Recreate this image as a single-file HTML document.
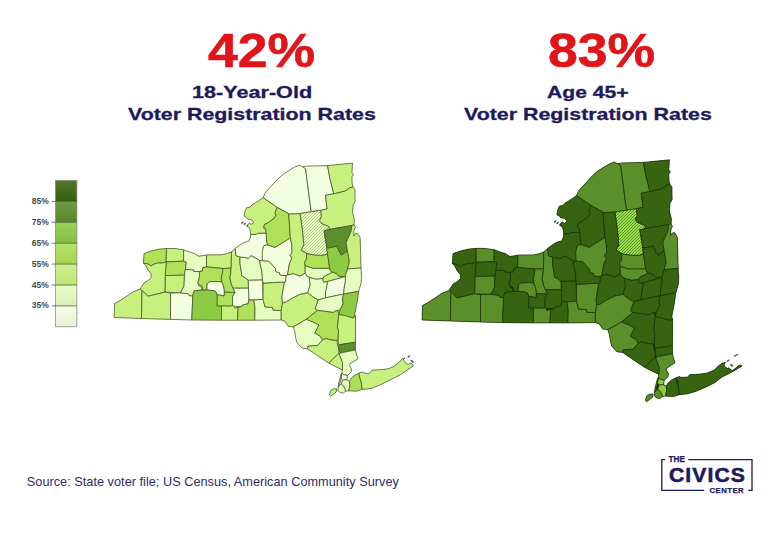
<!DOCTYPE html>
<html lang="en"><head><meta charset="utf-8"><title>Voter Registration Rates</title>
<style>
html,body{margin:0;padding:0;background:#fff;}
body{width:768px;height:548px;position:relative;overflow:hidden;font-family:"Liberation Sans",sans-serif;}
.t{position:absolute;white-space:nowrap;line-height:1;font-weight:bold;transform-origin:0 0;}
.red{color:#e0151a;}
.navy{color:#1e1a5c;}
#map{position:absolute;left:0;top:0;}
.lg{position:absolute;font-size:8.5px;font-weight:bold;color:#4a4a4a;line-height:1;white-space:nowrap;}
</style></head><body>
<svg id="map" width="768" height="548" viewBox="0 0 768 548">
<g id="mapL" stroke="#3b4c20" stroke-width="0.7" stroke-linejoin="round">
<path d="M141.5 318.5L141.5 318.5L170.1 319.4L170.5 319.4L191.8 320.0L221.1 320.2L221.5 320.2L254.8 320.2L281.2 320.0L285.0 321.2L288.1 326.2L293.1 326.9L294.7 331.5L295.6 337.5L296.9 342.5L301.9 348.1L307.5 348.8L310.0 350.6L328.8 363.1L342.2 369.9L341.9 373.1L341.0 373.8L340.0 378.1L338.8 382.5L338.1 387.2L338.1 390.6L340.0 392.5L343.1 393.1L345.6 391.2L348.8 390.8L356.2 391.2L362.2 389.4L366.9 389.0L372.5 388.1L381.2 384.4L400.0 375.0L409.0 368.9L413.3 366.0L411.4 363.2L409.8 363.5L408.4 364.3L406.6 364.1L405.7 362.2L403.9 360.7L403.3 359.1L405.2 358.1L401.9 358.9L401.2 360.0L399.2 362.2L393.6 366.6L388.4 368.7L381.6 369.6L375.2 370.1L372.1 370.1L368.8 373.8L363.5 372.7L362.0 371.9L359.1 373.0L355.0 375.0L351.2 378.1L349.4 381.2L346.9 379.7L347.5 375.6L351.2 371.9L351.5 368.8L349.4 365.6L350.0 363.8L358.0 358.8L356.6 355.0L355.5 350.0L355.4 342.2L355.6 330.0L355.5 315.3L354.1 317.4L353.9 317.3L354.7 314.6L357.5 300.0L358.7 291.3L359.5 288.6L361.2 282.7L361.6 276.8L361.2 271.8L361.0 268.0L360.6 252.5L360.1 237.4L357.6 233.4L355.4 233.6L353.8 236.1L353.9 230.8L355.4 227.3L354.1 224.8L354.4 220.0L352.5 212.5L353.1 205.3L355.2 201.2L355.0 197.5L355.0 189.4L353.1 186.9L352.2 183.8L351.9 176.9L353.5 175.0L351.9 172.5L352.2 168.8L352.5 163.1L327.5 165.6L305.6 166.2L303.1 166.9L301.2 166.2L299.4 165.2L294.4 167.2L283.8 173.8L278.1 178.8L271.2 186.2L265.0 193.1L263.1 197.6L258.8 200.6L251.9 205.0L250.0 207.3L246.5 207.8L245.0 211.2L244.1 216.1L246.6 217.5L247.8 219.1L250.3 219.3L252.1 220.2L253.5 221.8L253.0 223.4L251.2 224.3L249.4 223.4L248.0 224.1L247.1 225.7L248.0 227.1L249.6 228.7L250.3 231.2L250.7 234.4L250.4 237.5L248.8 241.2L243.8 242.5L240.0 245.0L235.3 248.4L231.5 251.9L227.5 253.5L221.2 254.8L212.5 254.8L206.5 255.0L203.1 255.6L198.8 256.2L195.0 253.8L189.4 251.9L183.6 249.8L174.9 248.5L166.5 248.5L159.2 249.1L151.1 251.0L144.0 253.5L143.4 263.1L145.5 265.0L148.0 270.0L151.1 273.8L151.1 277.5L148.6 280.2L144.2 282.8L141.5 286.9L140.2 289.0L133.0 291.9L126.8 296.2L119.9 300.6L114.5 303.5L114.2 317.5L141.1 318.5ZM330.6 390.6L329.4 395.0L330.6 396.2L333.1 394.4L336.2 391.9L336.9 388.8L333.8 388.8Z" fill="#cfe6a0" stroke="none"/>
<path d="M144.0 253.5L151.1 251.0L159.2 249.1L166.5 248.5L166.2 261.9L161.8 263.1L157.4 263.1L153.6 264.4L151.1 266.0L148.0 264.0L143.4 263.1Z" fill="#aee058"/>
<path d="M166.5 248.5L174.9 248.5L183.6 249.8L183.6 261.2L166.2 261.9Z" fill="#c8f07e"/>
<path d="M166.2 261.9L183.6 261.2L186.4 262.2L185.4 269.4L184.5 275.2L165.2 275.6Z" fill="#aee058"/>
<path d="M165.2 275.6L184.5 275.2L184.0 286.2L180.5 292.8L164.9 292.2Z" fill="#c8f07e"/>
<path d="M143.4 263.1L148.0 264.0L151.1 266.0L153.6 264.4L157.4 263.1L161.8 263.1L166.2 261.9L165.2 275.6L164.9 292.2L158.0 293.8L148.0 296.2L142.0 290.6L140.2 289.0L141.5 286.9L144.2 282.8L148.6 280.2L151.1 277.5L151.1 273.8L148.0 270.0L145.5 265.0Z" fill="#c8f07e"/>
<path d="M114.2 317.5L114.5 303.5L119.9 300.6L126.8 296.2L133.0 291.9L140.2 289.0L142.0 290.6L141.5 318.5Z" fill="#c8f07e"/>
<path d="M141.5 318.5L142.0 290.6L148.0 296.2L158.0 293.8L164.9 292.2L170.5 293.1L170.5 319.4Z" fill="#c8f07e"/>
<path d="M170.5 319.4L170.5 293.1L180.5 292.8L188.0 293.6L189.2 295.6L192.8 295.8L191.8 320.0Z" fill="#f3fde0"/>
<path d="M185.4 269.4L193.6 269.8L193.9 271.4L199.3 271.5L199.9 276.2L197.9 282.2L198.6 285.6L201.5 287.5L201.8 290.0L194.2 290.6L192.8 295.8L189.2 295.6L188.0 293.6L180.5 292.8L184.0 286.2L184.5 275.2Z" fill="#e6fcc0"/>
<path d="M183.6 249.8L189.4 251.9L195.0 253.8L198.8 256.2L203.1 255.6L206.5 255.0L206.5 266.9L202.8 267.8L202.2 271.2L199.3 271.5L193.9 271.4L193.6 269.8L185.4 269.4L186.4 262.2L183.6 261.2Z" fill="#e6fcc0"/>
<path d="M206.5 255.0L212.5 254.8L221.2 254.8L227.5 253.5L231.5 251.9L231.2 268.1L223.1 268.5L215.6 267.8L206.5 266.9Z" fill="#c8f07e"/>
<path d="M202.8 267.8L206.5 266.9L215.6 267.8L223.1 268.5L222.2 274.4L221.2 278.1L221.9 281.9L217.5 281.5L209.4 281.9L207.2 283.8L206.9 290.0L202.8 290.2L202.2 286.2L198.5 284.4L197.9 282.2L199.4 277.5L199.3 271.5L202.2 271.2Z" fill="#aee058"/>
<path d="M209.4 281.9L217.5 281.5L221.9 281.9L223.8 286.9L224.4 291.2L224.0 296.0L220.0 295.1L217.1 294.8L215.6 291.4L213.8 290.6L206.9 290.0L207.2 283.8Z" fill="#f3fde0"/>
<path d="M223.1 268.5L231.2 268.1L230.6 273.8L230.0 277.5L231.2 283.8L233.1 288.2L235.0 292.5L225.0 292.2L224.4 291.2L223.8 286.9L221.9 281.9L221.2 278.1L222.2 274.4Z" fill="#aee058"/>
<path d="M231.5 251.9L235.3 248.4L235.9 255.6L240.0 256.9L240.0 263.8L241.0 270.0L241.9 276.2L245.0 277.5L248.3 280.3L248.5 288.2L233.1 288.2L231.2 283.8L230.0 277.5L230.6 273.8L231.2 268.1Z" fill="#c8f07e"/>
<path d="M240.0 256.9L248.4 258.1L251.2 255.6L255.0 257.5L259.8 260.6L260.0 263.8L261.9 271.2L262.5 280.0L248.3 280.3L245.0 277.5L241.9 276.2L241.0 270.0L240.0 263.8Z" fill="#e6fcc0"/>
<path d="M248.3 280.3L262.5 280.0L263.1 299.4L253.8 300.0L248.8 300.0L248.5 288.2Z" fill="#f3fde0"/>
<path d="M233.1 288.2L248.5 288.2L248.8 300.0L248.1 303.8L242.5 305.0L241.9 306.5L233.8 306.2L232.5 305.6L232.5 296.2L235.0 292.5Z" fill="#f3fde0"/>
<path d="M217.1 294.8L220.0 295.1L224.0 296.0L225.0 292.2L235.0 292.5L232.5 296.2L232.5 305.6L230.0 306.2L221.5 306.0L216.9 306.2Z" fill="#aee058"/>
<path d="M195.6 290.6L202.8 290.2L206.9 290.0L213.8 290.6L215.6 291.4L217.1 294.8L216.9 306.2L221.5 306.0L221.5 320.2L191.8 320.0L192.8 295.8L193.1 293.1Z" fill="#8dcb45"/>
<path d="M221.5 306.0L230.0 306.2L232.5 305.6L233.8 306.2L234.4 308.1L238.1 307.5L237.5 320.2L221.5 320.2Z" fill="#c8f07e"/>
<path d="M238.1 307.5L241.9 306.5L242.5 305.0L248.1 303.8L248.8 300.0L253.8 300.0L255.0 307.5L254.8 320.2L237.5 320.2Z" fill="#aee058"/>
<path d="M253.8 300.0L263.1 299.4L265.0 306.9L272.5 307.5L273.1 310.1L281.2 310.4L281.2 320.0L254.8 320.2L255.0 307.5Z" fill="#e6fcc0"/>
<path d="M263.1 283.1L285.6 281.9L284.4 282.5L283.1 290.0L281.9 297.5L282.5 303.1L281.2 310.4L273.1 310.1L272.5 307.5L265.0 306.9L263.1 299.4Z" fill="#c8f07e"/>
<path d="M262.5 260.6L268.8 261.2L271.9 264.4L275.6 268.8L276.2 271.9L279.4 272.5L280.0 275.0L286.2 275.6L285.6 281.9L263.1 283.1L262.5 280.0L261.9 271.2L260.0 263.8L259.8 260.6Z" fill="#e6fcc0"/>
<path d="M264.4 245.0L267.8 244.9L275.0 247.4L290.3 237.9L291.9 245.0L292.0 252.5L290.0 255.5L291.9 258.1L289.4 263.8L287.5 275.0L286.2 275.6L280.0 275.0L279.4 272.5L276.2 271.9L275.6 268.8L271.9 264.4L268.8 261.2L262.5 260.6L261.2 255.0L262.2 251.2L263.1 247.5Z" fill="#f3fde0"/>
<path d="M250.7 234.4L256.2 234.4L257.6 233.2L266.2 233.1L266.9 242.5L267.8 244.9L264.4 245.0L263.1 247.5L262.2 252.5L262.5 260.6L259.8 260.6L255.0 257.5L251.2 255.6L248.4 258.1L240.0 256.9L235.9 255.6L235.3 248.4L240.0 245.0L243.8 242.5L248.8 241.2L250.4 237.5Z" fill="#f3fde0"/>
<path d="M263.1 197.6L258.8 200.6L251.9 205.0L250.0 207.3L246.5 207.8L245.0 211.2L244.1 216.1L246.6 217.5L247.8 219.1L250.3 219.3L252.1 220.2L253.5 221.8L253.0 223.4L251.2 224.3L249.4 223.4L248.0 224.1L247.1 225.7L248.0 227.1L249.6 228.7L250.3 231.2L250.7 234.4L256.2 234.4L257.6 233.2L266.2 233.1L265.6 228.8L263.8 228.1L264.4 224.4L267.5 223.1L274.1 218.4L276.2 215.0L275.0 212.8L277.3 207.3Z" fill="#c8f07e"/>
<path d="M277.3 207.3L288.1 213.1L288.8 214.1L290.3 237.9L275.0 247.4L267.8 244.9L266.9 242.5L266.2 233.1L265.6 228.8L263.8 228.1L264.4 224.4L267.5 223.1L274.1 218.4L276.2 215.0L275.0 212.8Z" fill="#aee058"/>
<path d="M263.1 197.6L265.0 193.1L271.2 186.2L278.1 178.8L283.8 173.8L294.4 167.2L299.4 165.2L301.2 166.2L303.1 166.9L305.6 168.8L307.2 181.2L309.4 198.8L311.2 211.7L300.0 213.6L288.8 214.1L288.1 213.1L277.3 207.3Z" fill="#f3fde0"/>
<path d="M303.1 166.9L305.6 166.2L327.5 165.6L330.0 178.8L333.8 193.8L325.5 195.3L327.1 209.0L320.6 210.3L311.2 211.7L307.2 181.2L305.6 168.8Z" fill="#f3fde0"/>
<path d="M327.5 165.6L352.5 163.1L352.2 168.8L351.9 172.5L353.5 175.0L351.9 176.9L352.2 183.8L353.1 186.9L349.4 188.1L345.0 191.2L333.8 193.8L330.0 178.8Z" fill="#c8f07e"/>
<path d="M325.5 195.3L333.8 193.8L345.0 191.2L349.4 188.1L353.1 186.9L355.0 189.4L355.0 197.5L355.2 201.2L353.1 205.3L352.5 212.5L354.4 220.0L354.1 224.8L351.9 225.5L329.4 229.4L328.8 226.5L321.9 223.8L319.4 220.6L321.2 216.9L320.6 210.3L327.1 209.0Z" fill="#c8f07e"/>
<clipPath id="clipL"><path d="M300.0 213.6L311.2 211.7L320.6 210.3L321.2 216.9L319.4 220.6L321.9 223.8L328.8 226.5L329.4 229.4L324.0 230.6L325.6 240.0L326.7 246.5L327.5 254.1L322.9 255.3L316.2 255.3L306.5 253.7L301.1 250.2L303.8 245.0L302.5 231.2Z"/></clipPath>
<path d="M300.0 213.6L311.2 211.7L320.6 210.3L321.2 216.9L319.4 220.6L321.9 223.8L328.8 226.5L329.4 229.4L324.0 230.6L325.6 240.0L326.7 246.5L327.5 254.1L322.9 255.3L316.2 255.3L306.5 253.7L301.1 250.2L303.8 245.0L302.5 231.2Z" fill="#edfccc" stroke="none"/>
<path d="M251.00 257.00L299.00 209.00M254.00 257.00L302.00 209.00M257.00 257.00L305.00 209.00M260.00 257.00L308.00 209.00M263.00 257.00L311.00 209.00M266.00 257.00L314.00 209.00M269.00 257.00L317.00 209.00M272.00 257.00L320.00 209.00M275.00 257.00L323.00 209.00M278.00 257.00L326.00 209.00M281.00 257.00L329.00 209.00M284.00 257.00L332.00 209.00M287.00 257.00L335.00 209.00M290.00 257.00L338.00 209.00M293.00 257.00L341.00 209.00M296.00 257.00L344.00 209.00M299.00 257.00L347.00 209.00M302.00 257.00L350.00 209.00M305.00 257.00L353.00 209.00M308.00 257.00L356.00 209.00M311.00 257.00L359.00 209.00M314.00 257.00L362.00 209.00M317.00 257.00L365.00 209.00M320.00 257.00L368.00 209.00M323.00 257.00L371.00 209.00M326.00 257.00L374.00 209.00M329.00 257.00L377.00 209.00" fill="none" stroke="#a9cf74" stroke-width="0.95" clip-path="url(#clipL)"/>
<path d="M300.0 213.6L311.2 211.7L320.6 210.3L321.2 216.9L319.4 220.6L321.9 223.8L328.8 226.5L329.4 229.4L324.0 230.6L325.6 240.0L326.7 246.5L327.5 254.1L322.9 255.3L316.2 255.3L306.5 253.7L301.1 250.2L303.8 245.0L302.5 231.2Z" fill="none"/>
<path d="M288.8 214.1L300.0 213.6L302.5 231.2L303.8 245.0L301.1 250.2L306.5 253.7L306.5 259.1L304.4 262.5L305.2 265.8L305.2 273.1L300.0 276.2L293.1 273.8L287.5 275.0L289.4 263.8L291.9 258.1L290.0 255.5L292.0 252.5L291.9 245.0L290.3 237.9Z" fill="#c8f07e"/>
<path d="M306.5 253.7L316.2 255.3L322.9 255.3L327.5 254.1L328.4 259.1L329.2 265.0L329.6 268.4L312.8 268.4L305.2 265.8L304.4 262.5L306.5 259.1Z" fill="#aee058"/>
<path d="M305.2 265.8L312.8 268.4L329.6 268.4L330.5 270.9L332.6 272.2L324.2 276.4L322.9 278.5L316.2 279.3L309.1 277.2L306.5 275.9L305.2 273.1Z" fill="#e6fcc0"/>
<path d="M332.6 272.2L336.3 273.4L338.9 276.4L345.4 276.6L340.2 278.1L327.6 281.5L323.8 282.3L322.7 280.2L322.9 278.5L324.2 276.4Z" fill="#c8f07e"/>
<path d="M327.5 248.1L336.9 246.2L339.4 251.9L341.3 255.0L347.4 250.8L348.6 256.4L349.4 262.0L347.9 267.0L347.7 268.9L346.1 273.5L345.4 276.6L338.9 276.4L336.3 273.4L332.6 272.2L330.5 270.9L329.6 268.4L329.2 265.0L328.4 259.1L327.5 254.1L326.7 246.5Z" fill="#8dcb45"/>
<path d="M324.0 230.6L329.4 229.4L351.9 225.5L351.2 231.2L347.5 239.4L346.2 242.5L347.4 250.8L341.3 255.0L339.4 251.9L336.9 246.2L327.5 248.1L326.7 246.5L325.6 240.0Z" fill="#5b8f29"/>
<path d="M351.9 225.5L354.1 224.8L355.4 227.3L353.9 230.8L353.8 236.1L355.4 233.6L357.6 233.4L360.1 237.4L360.6 252.5L361.0 268.0L347.7 268.9L347.9 267.0L349.4 262.0L348.6 256.4L347.4 250.8L346.2 242.5L347.5 239.4L351.2 231.2Z" fill="#c8f07e"/>
<path d="M347.7 268.9L361.0 268.0L361.2 271.8L361.6 276.8L361.2 282.7L359.5 288.6L358.7 291.3L343.5 294.1L343.9 288.6L345.2 281.9L345.4 276.6L346.1 273.5Z" fill="#e6fcc0"/>
<path d="M327.6 281.5L340.2 278.1L345.4 276.6L345.2 281.9L343.9 288.6L343.5 294.1L325.5 297.8L325.5 292.0L326.7 286.1Z" fill="#f3fde0"/>
<path d="M309.1 277.2L316.2 279.3L322.9 278.5L322.7 280.2L323.8 282.3L327.6 281.5L326.7 286.1L325.5 292.0L325.5 297.8L318.1 300.0L313.8 297.5L307.5 292.8L310.0 285.0Z" fill="#e6fcc0"/>
<path d="M286.2 275.6L287.5 275.0L293.1 273.8L300.0 276.2L305.2 273.1L306.5 275.9L309.1 277.2L310.0 285.0L307.5 292.8L300.0 294.4L291.2 298.8L286.2 302.0L282.5 303.1L281.9 297.5L283.1 290.0L284.4 282.5L285.6 281.9Z" fill="#f3fde0"/>
<path d="M325.5 297.8L343.5 294.1L342.5 298.8L343.1 303.8L340.0 310.0L336.2 310.6L333.1 312.5L323.8 311.2L317.5 310.4L315.0 308.8L318.1 300.0Z" fill="#e6fcc0"/>
<path d="M343.5 294.1L358.7 291.3L357.5 300.0L354.7 314.6L353.7 317.9L351.2 317.5L345.0 315.6L338.8 314.4L340.0 310.0L343.1 303.8L342.5 298.8Z" fill="#8dcb45"/>
<path d="M282.5 303.1L286.2 302.0L291.2 298.8L300.0 294.4L307.5 292.8L313.8 297.5L318.1 300.0L315.0 308.8L317.5 310.4L306.2 319.4L300.0 323.1L293.1 326.9L288.1 326.2L285.0 321.2L281.2 320.0L281.2 310.4Z" fill="#c8f07e"/>
<path d="M317.5 310.4L323.8 311.2L333.1 312.5L336.2 310.6L338.1 311.2L338.8 314.4L337.5 327.5L338.5 330.0L338.1 340.0L336.9 340.6L331.2 340.0L325.6 338.5L322.5 340.0L320.0 336.2L314.7 333.1L317.5 327.5L318.8 325.0L312.5 321.9L306.2 319.4Z" fill="#aee058"/>
<path d="M306.2 319.4L312.5 321.9L318.8 325.0L317.5 327.5L314.7 333.1L320.0 336.2L322.5 340.0L317.5 345.6L308.1 346.2L307.5 348.8L301.9 348.1L296.9 342.5L295.6 337.5L294.7 331.5L293.1 326.9L300.0 323.1Z" fill="#e6fcc0"/>
<path d="M307.5 348.8L308.1 346.2L317.5 345.6L322.5 340.0L325.6 338.5L331.2 340.0L336.9 340.6L337.5 345.0L338.8 348.8L338.8 353.1L336.9 355.0L328.8 363.1L317.5 355.6L310.0 350.6Z" fill="#c8f07e"/>
<path d="M338.8 314.4L345.0 315.6L351.2 317.5L353.7 317.9L355.5 315.3L355.6 330.0L355.4 342.2L338.8 344.8L338.1 340.0L338.5 330.0L337.5 327.5Z" fill="#c8f07e"/>
<path d="M338.8 344.8L355.4 342.2L355.5 350.0L340.0 353.1L338.8 348.8Z" fill="#5b8f29"/>
<path d="M340.0 353.1L355.5 350.0L356.6 355.0L358.0 358.8L350.0 363.8L349.4 365.6L351.5 368.8L351.2 371.9L347.5 375.6L343.1 374.4L341.9 373.1L342.5 367.5L342.5 362.5L339.4 355.0Z" fill="#e6fcc0"/>
<path d="M336.9 355.0L338.8 353.1L339.4 355.0L342.5 362.5L342.5 370.0L328.8 363.1Z" fill="#c8f07e"/>
<path d="M341.9 373.1L343.1 374.4L347.5 375.6L346.9 379.7L342.5 380.3L341.0 378.1Z" fill="#f3fde0"/>
<path d="M341.0 373.8L341.9 373.1L341.0 378.1L339.4 385.0L338.1 387.2L338.8 382.5L340.0 378.1Z" fill="#e6fcc0"/>
<path d="M342.5 380.3L346.9 379.7L349.4 381.2L350.0 385.0L348.8 390.8L345.6 391.2L345.0 388.8L343.1 385.6L341.2 384.1Z" fill="#e6fcc0"/>
<path d="M338.1 387.2L341.2 384.1L343.1 385.6L345.0 388.8L345.6 391.2L343.1 393.1L340.0 392.5L338.1 390.6Z" fill="#e6fcc0"/>
<path d="M329.4 395.0L330.6 390.6L333.8 388.8L336.9 388.8L336.2 391.9L333.1 394.4L330.6 396.2Z" fill="#c8f07e"/>
<path d="M349.4 381.2L351.2 378.1L355.0 375.0L359.1 373.0L359.4 376.2L361.3 382.5L362.2 389.4L356.2 391.2L348.8 390.8L350.0 385.0Z" fill="#aee058"/>
<path d="M359.1 373.0L362.0 371.9L363.5 372.7L368.8 373.8L372.1 370.1L375.2 370.1L381.6 369.6L388.4 368.7L393.6 366.6L399.2 362.2L401.2 360.0L401.9 358.9L405.2 358.1L403.3 359.1L403.9 360.7L405.7 362.2L406.6 364.1L408.4 364.3L409.8 363.5L411.4 363.2L413.3 366.0L409.0 368.9L400.0 375.0L390.0 380.0L381.2 384.4L372.5 388.1L366.9 389.0L362.2 389.4L361.3 382.5L359.4 376.2Z" fill="#c8f07e"/>
<path d="M407.6 357.0L408.8 355.8L409.9 355.6L409.6 356.7L408.1 357.6Z" fill="#4a4f48" stroke="#4a4f48" stroke-width="0.4"/><path d="M410.7 360.3L411.8 360.0L413.7 361.9L413.4 362.7L412.1 362.2Z" fill="#4a4f48" stroke="#4a4f48" stroke-width="0.4"/><path d="M241.1 223.2L242.3 221.8L243.4 222.1L242.3 223.6Z" fill="#4a4f48" stroke="#4a4f48" stroke-width="0.4"/><path d="M243.6 224.3L244.8 223.0L245.9 223.4L244.8 225.0Z" fill="#4a4f48" stroke="#4a4f48" stroke-width="0.4"/><path d="M246.4 226.2L247.3 225.0L247.8 225.5L247.0 226.6Z" fill="#4a4f48" stroke="#4a4f48" stroke-width="0.4"/>
</g>
<g id="mapR" stroke="#1a3205" stroke-width="0.72" stroke-linejoin="round">
<path d="M450.4 321.0L450.4 321.0L480.0 321.9L480.5 322.0L502.5 322.6L533.0 322.9L533.4 322.9L567.9 322.9L595.4 322.6L599.3 323.9L602.6 329.1L607.8 329.7L609.4 334.5L610.3 340.8L611.7 346.0L616.9 351.8L622.7 352.4L625.3 354.4L644.7 367.4L658.7 374.4L658.4 377.7L657.5 378.4L656.4 382.9L655.1 387.5L654.5 392.3L654.5 395.9L656.4 397.9L659.7 398.5L662.3 396.6L665.5 396.1L673.3 396.6L679.4 394.7L687.5 393.7L696.3 391.2L705.0 387.5L715.0 382.5L721.9 377.1L730.7 372.7L735.0 370.2L739.4 367.6L742.0 366.2L740.9 365.1L738.0 365.8L736.5 367.6L732.5 370.4L730.7 369.5L728.9 367.7L727.4 368.6L724.6 366.4L724.1 364.3L725.5 362.4L722.1 363.2L717.8 366.4L714.6 369.8L712.1 370.9L706.6 373.2L699.6 374.1L692.9 374.6L689.8 374.6L687.5 377.2L680.8 377.3L679.3 376.5L676.2 377.7L672.0 379.7L668.1 382.9L666.2 386.2L663.6 384.6L664.2 380.3L668.1 376.4L668.4 373.2L666.2 370.0L666.8 368.0L675.1 362.8L673.7 358.9L672.5 353.7L672.4 345.7L672.6 333.0L672.5 317.7L671.0 319.9L670.8 319.8L671.7 317.0L674.6 301.8L675.8 292.8L676.7 290.0L678.4 283.9L678.8 277.8L678.4 272.6L678.2 268.6L677.8 252.5L677.3 236.9L674.7 232.7L672.4 232.9L670.7 235.5L670.8 230.0L672.4 226.4L671.1 223.8L671.4 218.8L669.4 211.0L670.0 203.5L672.2 199.3L672.0 195.4L672.0 187.0L670.0 184.4L669.1 181.2L668.7 174.0L670.4 172.1L668.7 169.5L669.1 165.6L669.4 159.8L643.4 162.4L620.7 163.0L618.1 163.7L616.2 163.0L614.3 162.0L609.1 164.0L598.0 170.8L592.2 176.0L585.1 183.8L578.6 190.9L576.6 195.5L572.1 198.7L565.0 203.2L563.0 205.6L559.4 206.1L557.8 209.7L556.9 214.8L559.5 216.2L560.7 217.9L563.3 218.1L565.2 219.0L566.6 220.7L566.1 222.3L564.2 223.3L562.4 222.3L560.9 223.1L560.0 224.7L560.9 226.2L562.6 227.8L563.3 230.4L563.7 233.7L563.4 237.0L561.7 240.9L556.5 242.2L552.6 244.8L547.8 248.3L543.8 251.9L539.6 253.6L533.2 254.9L524.1 254.9L517.8 255.1L514.3 255.8L509.8 256.4L505.9 253.8L500.1 251.9L494.0 249.7L485.0 248.4L476.3 248.4L468.8 249.0L460.4 251.0L453.0 253.6L452.3 263.6L454.5 265.5L457.1 270.7L460.4 274.6L460.4 278.5L457.8 281.3L453.2 283.9L450.4 288.2L449.1 290.4L441.6 293.4L435.1 297.9L427.9 302.5L422.4 305.5L422.1 320.0L449.9 321.0ZM646.7 395.9L645.4 400.4L646.7 401.7L649.3 399.8L652.5 397.2L653.2 394.0L649.9 394.0Z" fill="#1a3205" stroke="none"/>
<path d="M453.0 253.6L460.4 251.0L468.8 249.0L476.3 248.4L476.1 262.3L471.4 263.6L466.9 263.6L463.0 264.9L460.4 266.5L457.1 264.5L452.3 263.6Z" fill="#376410"/>
<path d="M476.3 248.4L485.0 248.4L494.0 249.7L494.1 261.6L476.1 262.3Z" fill="#5b8f29"/>
<path d="M476.1 262.3L494.1 261.6L497.0 262.6L496.0 270.1L495.0 276.1L475.0 276.5Z" fill="#376410"/>
<path d="M475.0 276.5L495.0 276.1L494.5 287.6L490.9 294.3L474.6 293.8Z" fill="#5b8f29"/>
<path d="M452.3 263.6L457.1 264.5L460.4 266.5L463.0 264.9L466.9 263.6L471.4 263.6L476.1 262.3L475.0 276.5L474.6 293.8L467.5 295.4L457.1 297.9L450.9 292.1L449.1 290.4L450.4 288.2L453.2 283.9L457.8 281.3L460.4 278.5L460.4 274.6L457.1 270.7L454.5 265.5Z" fill="#376410"/>
<path d="M422.1 320.0L422.4 305.5L427.9 302.5L435.1 297.9L441.6 293.4L449.1 290.4L450.9 292.1L450.4 321.0Z" fill="#5b8f29"/>
<path d="M450.4 321.0L450.9 292.1L457.1 297.9L467.5 295.4L474.6 293.8L480.5 294.7L480.5 322.0Z" fill="#5b8f29"/>
<path d="M480.5 322.0L480.5 294.7L490.9 294.3L498.6 295.2L499.9 297.3L503.7 297.5L502.5 322.6Z" fill="#5b8f29"/>
<path d="M496.0 270.1L504.4 270.4L504.7 272.1L510.4 272.3L511.0 277.2L509.0 283.4L509.7 286.9L512.7 288.9L512.9 291.5L505.1 292.1L503.7 297.5L499.9 297.3L498.6 295.2L490.9 294.3L494.5 287.6L495.0 276.1Z" fill="#376410"/>
<path d="M494.0 249.7L500.1 251.9L505.9 253.8L509.8 256.4L514.3 255.8L517.8 255.1L517.8 267.5L514.0 268.4L513.4 272.0L510.4 272.3L504.7 272.1L504.4 270.4L496.0 270.1L497.0 262.6L494.1 261.6Z" fill="#376410"/>
<path d="M517.8 255.1L524.1 254.9L533.2 254.9L539.6 253.6L543.8 251.9L543.5 268.8L535.1 269.1L527.3 268.4L517.8 267.5Z" fill="#5b8f29"/>
<path d="M514.0 268.4L517.8 267.5L527.3 268.4L535.1 269.1L534.2 275.2L533.2 279.1L533.8 283.0L529.3 282.6L520.8 283.0L518.6 285.0L518.2 291.5L514.0 291.7L513.4 287.6L509.5 285.6L509.0 283.4L510.5 278.5L510.4 272.3L513.4 272.0Z" fill="#376410"/>
<path d="M520.8 283.0L529.3 282.6L533.8 283.0L535.8 288.2L536.4 292.8L536.0 297.7L531.9 296.8L528.8 296.4L527.3 292.9L525.4 292.1L518.2 291.5L518.6 285.0Z" fill="#5b8f29"/>
<path d="M535.1 269.1L543.5 268.8L542.9 274.6L542.2 278.5L543.5 285.0L545.5 289.6L547.4 294.1L537.0 293.8L536.4 292.8L535.8 288.2L533.8 283.0L533.2 279.1L534.2 275.2Z" fill="#5b8f29"/>
<path d="M543.8 251.9L547.8 248.3L548.4 255.8L552.7 257.1L552.6 264.2L553.7 270.7L554.6 277.2L557.8 278.5L561.2 281.4L561.4 289.6L545.5 289.6L543.5 285.0L542.2 278.5L542.9 274.6L543.5 268.8Z" fill="#5b8f29"/>
<path d="M552.7 257.1L561.4 258.4L564.3 255.8L568.2 257.7L573.2 261.0L573.4 264.2L575.3 272.0L576.0 281.1L561.2 281.4L557.8 278.5L554.6 277.2L553.7 270.7L552.6 264.2Z" fill="#376410"/>
<path d="M561.2 281.4L576.0 281.1L576.6 301.2L566.9 301.8L561.7 301.8L561.4 289.6Z" fill="#376410"/>
<path d="M545.5 289.6L561.4 289.6L561.7 301.8L561.1 305.7L555.2 307.0L554.6 308.6L546.1 308.3L544.8 307.7L544.8 297.9L547.4 294.1Z" fill="#376410"/>
<path d="M528.8 296.4L531.9 296.8L536.0 297.7L537.0 293.8L547.4 294.1L544.8 297.9L544.8 307.7L542.2 308.3L533.4 308.1L528.6 308.3Z" fill="#376410"/>
<path d="M506.6 292.1L514.0 291.7L518.2 291.5L525.4 292.1L527.3 292.9L528.8 296.4L528.6 308.3L533.4 308.1L533.4 322.9L502.5 322.6L503.7 297.5L504.0 294.7Z" fill="#376410"/>
<path d="M533.4 308.1L542.2 308.3L544.8 307.7L546.1 308.3L546.8 310.3L550.7 309.6L550.0 322.9L533.4 322.9Z" fill="#5b8f29"/>
<path d="M550.7 309.6L554.6 308.6L555.2 307.0L561.1 305.7L561.7 301.8L566.9 301.8L568.2 309.6L567.9 322.9L550.0 322.9Z" fill="#376410"/>
<path d="M566.9 301.8L576.6 301.2L578.6 309.0L586.4 309.6L587.0 312.3L595.4 312.7L595.4 322.6L567.9 322.9L568.2 309.6Z" fill="#5b8f29"/>
<path d="M576.6 284.3L600.0 283.1L598.7 283.7L597.4 291.5L596.1 299.2L596.7 305.1L595.4 312.7L587.0 312.3L586.4 309.6L578.6 309.0L576.6 301.2Z" fill="#5b8f29"/>
<path d="M576.0 261.0L582.5 261.6L585.7 264.9L589.6 269.4L590.2 272.7L593.5 273.3L594.1 275.9L600.6 276.5L600.0 283.1L576.6 284.3L576.0 281.1L575.3 272.0L573.4 264.2L573.2 261.0Z" fill="#376410"/>
<path d="M577.9 244.8L581.5 244.6L589.0 247.2L604.9 237.4L606.5 244.8L606.6 252.5L604.5 255.6L606.5 258.4L603.9 264.2L601.9 275.9L600.6 276.5L594.1 275.9L593.5 273.3L590.2 272.7L589.6 269.4L585.7 264.9L582.5 261.6L576.0 261.0L574.7 255.1L575.7 251.2L576.6 247.3Z" fill="#5b8f29"/>
<path d="M563.7 233.7L569.4 233.7L570.9 232.5L579.9 232.4L580.5 242.2L581.5 244.6L577.9 244.8L576.6 247.3L575.7 252.5L576.0 261.0L573.2 261.0L568.2 257.7L564.3 255.8L561.4 258.4L552.7 257.1L548.4 255.8L547.8 248.3L552.6 244.8L556.5 242.2L561.7 240.9L563.4 237.0Z" fill="#376410"/>
<path d="M576.6 195.5L572.1 198.7L565.0 203.2L563.0 205.6L559.4 206.1L557.8 209.7L556.9 214.8L559.5 216.2L560.7 217.9L563.3 218.1L565.2 219.0L566.6 220.7L566.1 222.3L564.2 223.3L562.4 222.3L560.9 223.1L560.0 224.7L560.9 226.2L562.6 227.8L563.3 230.4L563.7 233.7L569.4 233.7L570.9 232.5L579.9 232.4L579.2 227.9L577.3 227.2L577.9 223.4L581.2 222.0L588.0 217.1L590.2 213.6L589.0 211.3L591.3 205.6Z" fill="#376410"/>
<path d="M591.3 205.6L602.6 211.7L603.2 212.7L604.9 237.4L589.0 247.2L581.5 244.6L580.5 242.2L579.9 232.4L579.2 227.9L577.3 227.2L577.9 223.4L581.2 222.0L588.0 217.1L590.2 213.6L589.0 211.3Z" fill="#376410"/>
<path d="M576.6 195.5L578.6 190.9L585.1 183.8L592.2 176.0L598.0 170.8L609.1 164.0L614.3 162.0L616.2 163.0L618.1 163.7L620.7 165.6L622.4 178.6L624.6 196.7L626.6 210.2L614.9 212.1L603.2 212.7L602.6 211.7L591.3 205.6Z" fill="#5b8f29"/>
<path d="M618.1 163.7L620.7 163.0L643.4 162.4L646.0 176.0L649.9 191.6L641.3 193.2L643.1 207.4L636.3 208.8L626.6 210.2L622.4 178.6L620.7 165.6Z" fill="#5b8f29"/>
<path d="M643.4 162.4L669.4 159.8L669.1 165.6L668.7 169.5L670.4 172.1L668.7 174.0L669.1 181.2L670.0 184.4L666.2 185.7L661.6 189.0L649.9 191.6L646.0 176.0Z" fill="#376410"/>
<path d="M641.3 193.2L649.9 191.6L661.6 189.0L666.2 185.7L670.0 184.4L672.0 187.0L672.0 195.4L672.2 199.3L670.0 203.5L669.4 211.0L671.4 218.8L671.1 223.8L668.8 224.5L645.4 228.6L644.7 225.5L637.6 222.7L635.0 219.4L637.0 215.6L636.3 208.8L643.1 207.4Z" fill="#376410"/>
<clipPath id="clipR"><path d="M614.9 212.1L626.6 210.2L636.3 208.8L637.0 215.6L635.0 219.4L637.6 222.7L644.7 225.5L645.4 228.6L639.8 229.8L641.5 239.6L642.6 246.3L643.4 254.2L638.7 255.4L631.7 255.4L621.6 253.8L616.0 250.1L618.8 244.8L617.5 230.5Z"/></clipPath>
<path d="M614.9 212.1L626.6 210.2L636.3 208.8L637.0 215.6L635.0 219.4L637.6 222.7L644.7 225.5L645.4 228.6L639.8 229.8L641.5 239.6L642.6 246.3L643.4 254.2L638.7 255.4L631.7 255.4L621.6 253.8L616.0 250.1L618.8 244.8L617.5 230.5Z" fill="#9adc50" stroke="none"/>
<path d="M563.00 257.00L613.00 207.00M566.00 257.00L616.00 207.00M569.00 257.00L619.00 207.00M572.00 257.00L622.00 207.00M575.00 257.00L625.00 207.00M578.00 257.00L628.00 207.00M581.00 257.00L631.00 207.00M584.00 257.00L634.00 207.00M587.00 257.00L637.00 207.00M590.00 257.00L640.00 207.00M593.00 257.00L643.00 207.00M596.00 257.00L646.00 207.00M599.00 257.00L649.00 207.00M602.00 257.00L652.00 207.00M605.00 257.00L655.00 207.00M608.00 257.00L658.00 207.00M611.00 257.00L661.00 207.00M614.00 257.00L664.00 207.00M617.00 257.00L667.00 207.00M620.00 257.00L670.00 207.00M623.00 257.00L673.00 207.00M626.00 257.00L676.00 207.00M629.00 257.00L679.00 207.00M632.00 257.00L682.00 207.00M635.00 257.00L685.00 207.00M638.00 257.00L688.00 207.00M641.00 257.00L691.00 207.00M644.00 257.00L694.00 207.00" fill="none" stroke="#559620" stroke-width="1.0" clip-path="url(#clipR)"/>
<path d="M614.9 212.1L626.6 210.2L636.3 208.8L637.0 215.6L635.0 219.4L637.6 222.7L644.7 225.5L645.4 228.6L639.8 229.8L641.5 239.6L642.6 246.3L643.4 254.2L638.7 255.4L631.7 255.4L621.6 253.8L616.0 250.1L618.8 244.8L617.5 230.5Z" fill="none"/>
<path d="M603.2 212.7L614.9 212.1L617.5 230.5L618.8 244.8L616.0 250.1L621.6 253.8L621.6 259.4L619.5 262.9L620.3 266.3L620.3 274.0L614.9 277.2L607.7 274.6L601.9 275.9L603.9 264.2L606.5 258.4L604.5 255.6L606.6 252.5L606.5 244.8L604.9 237.4Z" fill="#376410"/>
<path d="M621.6 253.8L631.7 255.4L638.7 255.4L643.4 254.2L644.4 259.4L645.2 265.5L645.6 269.0L628.2 269.0L620.3 266.3L619.5 262.9L621.6 259.4Z" fill="#5b8f29"/>
<path d="M620.3 266.3L628.2 269.0L645.6 269.0L646.6 271.6L648.7 273.0L640.0 277.3L638.7 279.5L631.7 280.4L624.3 278.2L621.6 276.8L620.3 274.0Z" fill="#5b8f29"/>
<path d="M648.7 273.0L652.6 274.2L655.3 277.3L662.0 277.6L656.6 279.1L643.5 282.6L639.6 283.5L638.5 281.3L638.7 279.5L640.0 277.3Z" fill="#376410"/>
<path d="M643.4 248.0L653.2 246.0L655.8 251.9L657.8 255.1L664.1 250.8L665.3 256.6L666.2 262.4L664.6 267.6L664.4 269.6L662.8 274.3L662.0 277.6L655.3 277.3L652.6 274.2L648.7 273.0L646.6 271.6L645.6 269.0L645.2 265.5L644.4 259.4L643.4 254.2L642.6 246.3Z" fill="#376410"/>
<path d="M639.8 229.8L645.4 228.6L668.8 224.5L668.1 230.5L664.2 238.9L662.9 242.2L664.1 250.8L657.8 255.1L655.8 251.9L653.2 246.0L643.4 248.0L642.6 246.3L641.5 239.6Z" fill="#376410"/>
<path d="M668.8 224.5L671.1 223.8L672.4 226.4L670.8 230.0L670.7 235.5L672.4 232.9L674.7 232.7L677.3 236.9L677.8 252.5L678.2 268.6L664.4 269.6L664.6 267.6L666.2 262.4L665.3 256.6L664.1 250.8L662.9 242.2L664.2 238.9L668.1 230.5Z" fill="#5b8f29"/>
<path d="M664.4 269.6L678.2 268.6L678.4 272.6L678.8 277.8L678.4 283.9L676.7 290.0L675.8 292.8L660.1 295.7L660.5 290.0L661.8 283.1L662.0 277.6L662.8 274.3Z" fill="#376410"/>
<path d="M643.5 282.6L656.6 279.1L662.0 277.6L661.8 283.1L660.5 290.0L660.1 295.7L641.4 299.6L641.4 293.5L642.6 287.4Z" fill="#376410"/>
<path d="M624.3 278.2L631.7 280.4L638.7 279.5L638.5 281.3L639.6 283.5L643.5 282.6L642.6 287.4L641.4 293.5L641.4 299.6L633.7 301.8L629.2 299.2L622.7 294.4L625.3 286.3Z" fill="#376410"/>
<path d="M600.6 276.5L601.9 275.9L607.7 274.6L614.9 277.2L620.3 274.0L621.6 276.8L624.3 278.2L625.3 286.3L622.7 294.4L614.9 296.0L605.8 300.5L600.6 304.0L596.7 305.1L596.1 299.2L597.4 291.5L598.7 283.7L600.0 283.1Z" fill="#376410"/>
<path d="M641.4 299.6L660.1 295.7L659.0 300.5L659.7 305.7L656.4 312.2L652.5 312.9L649.3 314.8L639.6 313.5L633.1 312.6L630.5 310.9L633.7 301.8Z" fill="#376410"/>
<path d="M660.1 295.7L675.8 292.8L674.6 301.8L671.7 317.0L670.6 320.4L668.1 320.0L661.6 318.0L655.1 316.8L656.4 312.2L659.7 305.7L659.0 300.5Z" fill="#376410"/>
<path d="M596.7 305.1L600.6 304.0L605.8 300.5L614.9 296.0L622.7 294.4L629.2 299.2L633.7 301.8L630.5 310.9L633.1 312.6L621.4 322.0L614.9 325.8L607.8 329.7L602.6 329.1L599.3 323.9L595.4 322.6L595.4 312.7Z" fill="#5b8f29"/>
<path d="M633.1 312.6L639.6 313.5L649.3 314.8L652.5 312.9L654.4 313.5L655.1 316.8L653.8 330.4L654.9 333.0L654.4 343.4L653.2 344.0L647.3 343.4L641.5 341.8L638.3 343.4L635.7 339.5L630.2 336.2L633.1 330.4L634.4 327.8L627.9 324.6L621.4 322.0Z" fill="#376410"/>
<path d="M621.4 322.0L627.9 324.6L634.4 327.8L633.1 330.4L630.2 336.2L635.7 339.5L638.3 343.4L633.1 349.2L623.3 349.8L622.7 352.4L616.9 351.8L611.7 346.0L610.3 340.8L609.4 334.5L607.8 329.7L614.9 325.8Z" fill="#5b8f29"/>
<path d="M622.7 352.4L623.3 349.8L633.1 349.2L638.3 343.4L641.5 341.8L647.3 343.4L653.2 344.0L653.8 348.6L655.1 352.4L655.1 357.0L653.2 358.9L644.7 367.4L633.1 359.6L625.3 354.4Z" fill="#376410"/>
<path d="M655.1 316.8L661.6 318.0L668.1 320.0L670.6 320.4L672.5 317.7L672.6 333.0L672.4 345.7L655.1 348.3L654.4 343.4L654.9 333.0L653.8 330.4Z" fill="#376410"/>
<path d="M655.1 348.3L672.4 345.7L672.5 353.7L656.4 357.0L655.1 352.4Z" fill="#376410"/>
<path d="M656.4 357.0L672.5 353.7L673.7 358.9L675.1 362.8L666.8 368.0L666.2 370.0L668.4 373.2L668.1 376.4L664.2 380.3L659.7 379.0L658.4 377.7L659.0 371.9L659.0 366.7L655.8 358.9Z" fill="#5b8f29"/>
<path d="M653.2 358.9L655.1 357.0L655.8 358.9L659.0 366.7L659.0 374.5L644.7 367.4Z" fill="#376410"/>
<path d="M658.4 377.7L659.7 379.0L664.2 380.3L663.6 384.6L659.0 385.2L657.5 382.9Z" fill="#8dcb45"/>
<path d="M657.5 378.4L658.4 377.7L657.5 382.9L655.8 390.1L654.5 392.3L655.1 387.5L656.4 382.9Z" fill="#5b8f29"/>
<path d="M659.0 385.2L663.6 384.6L666.2 386.2L666.8 390.1L665.5 396.1L662.3 396.6L661.6 394.0L659.7 390.7L657.7 389.1Z" fill="#8dcb45"/>
<path d="M654.5 392.3L657.7 389.1L659.7 390.7L661.6 394.0L662.3 396.6L659.7 398.5L656.4 397.9L654.5 395.9Z" fill="#5b8f29"/>
<path d="M645.4 400.4L646.7 395.9L649.9 394.0L653.2 394.0L652.5 397.2L649.3 399.8L646.7 401.7Z" fill="#5b8f29"/>
<path d="M666.2 386.2L668.1 382.9L672.0 379.7L676.2 377.7L676.5 381.0L678.6 387.5L679.4 394.7L673.3 396.6L665.5 396.1L666.8 390.1Z" fill="#376410"/>
<path d="M676.2 377.7L679.3 376.5L680.8 377.3L687.5 377.2L689.8 374.6L692.9 374.6L699.6 374.1L706.6 373.2L712.1 370.9L714.6 369.8L717.8 366.4L722.1 363.2L725.5 362.4L724.1 364.3L724.6 366.4L727.4 368.6L728.9 367.7L730.7 369.5L732.5 370.4L736.5 367.6L738.0 365.8L740.9 365.1L742.0 366.2L739.4 367.6L735.0 370.2L730.7 372.7L721.9 377.1L715.0 382.5L705.0 387.5L696.2 391.2L687.5 393.8L679.4 394.7L678.6 387.5L677.8 381.2Z" fill="#376410"/>
<path d="M733.9 356.1L735.8 354.9L738.0 354.0L738.1 354.5L736.1 355.8L734.3 356.5Z" fill="#2f4a1a" stroke="#2f4a1a" stroke-width="0.4"/><path d="M726.6 361.2L728.1 360.1L729.3 359.8L729.1 360.5L727.4 361.6Z" fill="#2f4a1a" stroke="#2f4a1a" stroke-width="0.4"/><path d="M730.3 364.3L731.8 364.1L732.8 365.8L732.5 366.7L731.4 366.2Z" fill="#2f4a1a" stroke="#2f4a1a" stroke-width="0.4"/><path d="M553.8 222.1L555.0 220.7L556.2 221.0L555.0 222.6Z" fill="#2f4a1a" stroke="#2f4a1a" stroke-width="0.4"/><path d="M556.4 223.3L557.6 221.9L558.8 222.3L557.6 224.0Z" fill="#2f4a1a" stroke="#2f4a1a" stroke-width="0.4"/><path d="M559.2 225.2L560.2 224.0L560.8 224.5L559.9 225.7Z" fill="#2f4a1a" stroke="#2f4a1a" stroke-width="0.4"/>
</g>
<!-- legend -->
<defs><linearGradient id="lg0" x1="0" x2="0" y1="0" y2="1"><stop offset="0" stop-color="#4f762c"/><stop offset="1" stop-color="#345f0f"/></linearGradient><linearGradient id="lg1" x1="0" x2="0" y1="0" y2="1"><stop offset="0" stop-color="#6e9c42"/><stop offset="1" stop-color="#568726"/></linearGradient><linearGradient id="lg2" x1="0" x2="0" y1="0" y2="1"><stop offset="0" stop-color="#9ad15b"/><stop offset="1" stop-color="#85c041"/></linearGradient><linearGradient id="lg3" x1="0" x2="0" y1="0" y2="1"><stop offset="0" stop-color="#b7e36c"/><stop offset="1" stop-color="#a5d453"/></linearGradient><linearGradient id="lg4" x1="0" x2="0" y1="0" y2="1"><stop offset="0" stop-color="#cef18d"/><stop offset="1" stop-color="#bee477"/></linearGradient><linearGradient id="lg5" x1="0" x2="0" y1="0" y2="1"><stop offset="0" stop-color="#e9fcc7"/><stop offset="1" stop-color="#daefb6"/></linearGradient><linearGradient id="lg6" x1="0" x2="0" y1="0" y2="1"><stop offset="0" stop-color="#f4fde3"/><stop offset="1" stop-color="#e6f0d4"/></linearGradient></defs>
<g stroke="none"><rect x="55.5" y="180.5" width="21.4" height="20.9" fill="url(#lg0)"/><rect x="55.5" y="201.4" width="21.4" height="20.9" fill="url(#lg1)"/><rect x="55.5" y="222.3" width="21.4" height="20.9" fill="url(#lg2)"/><rect x="55.5" y="243.2" width="21.4" height="20.9" fill="url(#lg3)"/><rect x="55.5" y="264.1" width="21.4" height="20.9" fill="url(#lg4)"/><rect x="55.5" y="285.0" width="21.4" height="20.9" fill="url(#lg5)"/><rect x="55.5" y="305.9" width="21.4" height="20.9" fill="url(#lg6)"/></g>
<rect x="55.5" y="180.5" width="21.4" height="146.3" fill="none" stroke="#7d8578" stroke-width="0.7"/>
<path d="M51.5 201.4H76.9M51.5 222.3H76.9M51.5 243.2H76.9M51.5 264.1H76.9M51.5 285.0H76.9M51.5 305.9H76.9" stroke="#3a4a2a" stroke-width="0.7" fill="none"/>
<rect x="77.6" y="312.4" width="0.7" height="0.8" fill="#9a9a9a"/>
<!-- logo frame -->
<g fill="none" stroke="#1e1a5c" stroke-width="1.3"><path d="M665 459.6H661.8V490.3H704.2M748.3 490.3H752V459.6H688.3"/></g>
</svg>
<div class="lg" style="left:31.8px;top:196.9px;">85%</div>
<div class="lg" style="left:31.8px;top:217.8px;">75%</div>
<div class="lg" style="left:31.8px;top:238.7px;">65%</div>
<div class="lg" style="left:31.8px;top:259.6px;">55%</div>
<div class="lg" style="left:31.8px;top:280.5px;">45%</div>
<div class="lg" style="left:31.8px;top:301.4px;">35%</div>

<div class="t red" id="h1" style="left:208.4px;top:26.8px;font-size:47.6px;transform:scaleX(1.125);-webkit-text-stroke:0.6px #e0151a;">42%</div>
<div class="t navy" id="s1a" style="left:192.2px;top:85px;font-size:16.6px;transform:scaleX(1.302);-webkit-text-stroke:0.3px #1e1a5c;">18-Year-Old</div>
<div class="t navy" id="s1b" style="left:128px;top:107.2px;font-size:16.6px;transform:scaleX(1.288);-webkit-text-stroke:0.3px #1e1a5c;">Voter Registration Rates</div>
<div class="t red" id="h2" style="left:548px;top:27.2px;font-size:48px;transform:scaleX(1.115);-webkit-text-stroke:0.6px #e0151a;">83%</div>
<div class="t navy" id="s2a" style="left:547.3px;top:85.3px;font-size:16.6px;transform:scaleX(1.272);-webkit-text-stroke:0.3px #1e1a5c;">Age 45+</div>
<div class="t navy" id="s2b" style="left:464px;top:106.8px;font-size:16.6px;transform:scaleX(1.288);-webkit-text-stroke:0.3px #1e1a5c;">Voter Registration Rates</div>
<div class="t navy" id="src" style="left:26.8px;top:475.6px;font-size:12.7px;font-weight:normal;letter-spacing:0.03px;color:#2f2a6a;">Source: State voter file; US Census, American Community Survey</div>
<div class="t navy" id="lg1" style="left:668.6px;top:455.8px;font-size:8.2px;-webkit-text-stroke:0.25px #1e1a5c;">THE</div>
<div class="t navy" id="lg2" style="left:668.6px;top:466px;font-size:19.5px;transform:scaleX(1.085);letter-spacing:1px;-webkit-text-stroke:0.55px #1e1a5c;">CIVICS</div>
<div class="t navy" id="lg3" style="left:709.6px;top:486.9px;font-size:7.8px;letter-spacing:0.4px;-webkit-text-stroke:0.25px #1e1a5c;">CENTER</div>
</body></html>
